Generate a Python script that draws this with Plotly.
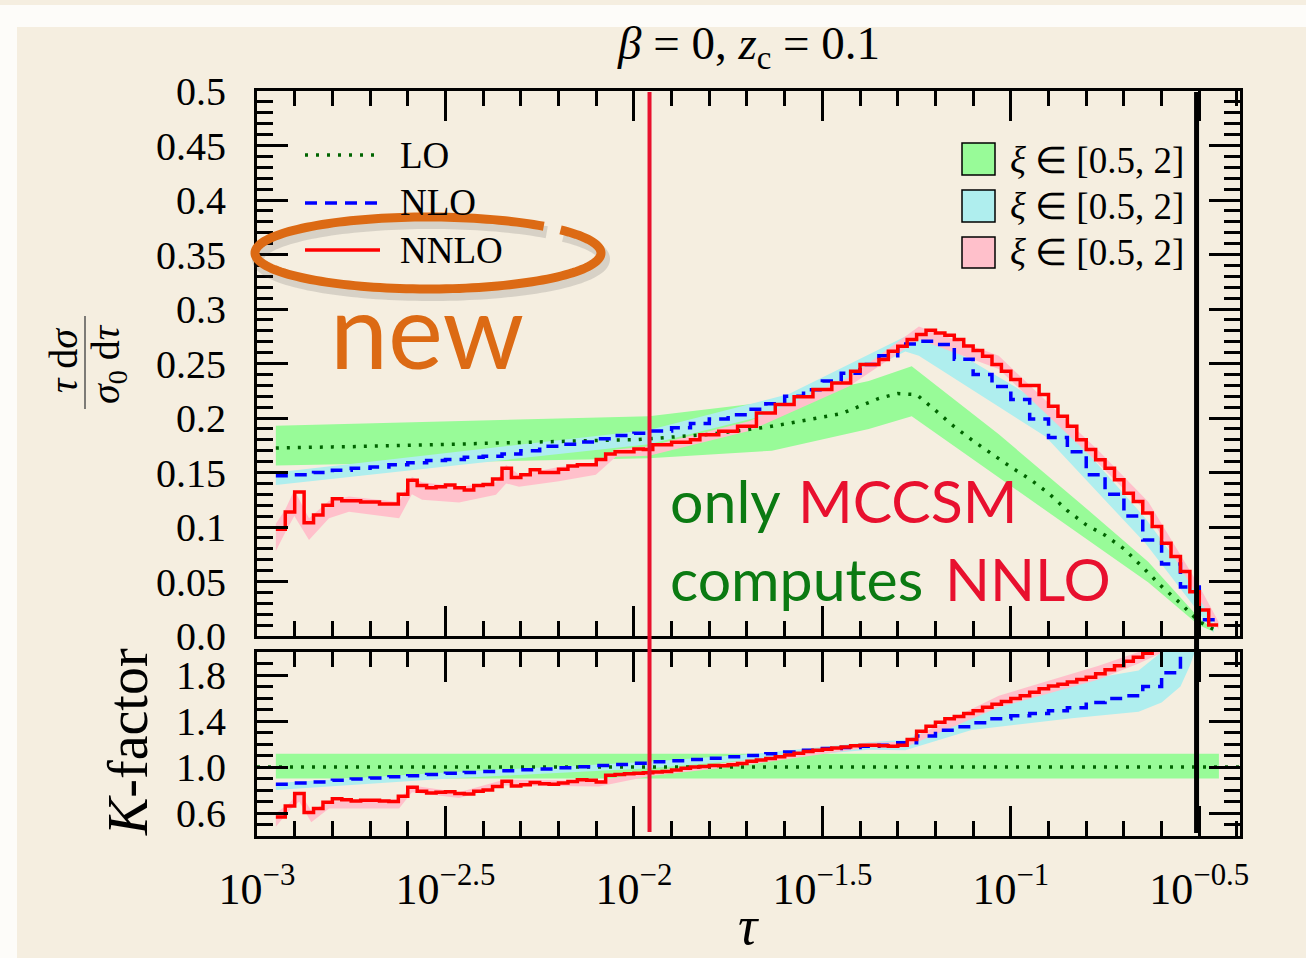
import numpy as np
import plotly.graph_objects as go

# ------------------------------------------------------------------ data
# histogram binning in log10(tau)
NNLO_LOG0, NNLO_STEP = -2.95, 0.025
NLO_LOG0, NLO_STEP = -2.95, 0.05
LO_LOG0, LO_STEP = -2.95, 0.05

nnlo = [0.098, 0.1137, 0.132, 0.104, 0.111, 0.120, 0.126, 0.124, 0.124, 0.123,
        0.123, 0.121, 0.121, 0.130, 0.143, 0.138, 0.136, 0.137, 0.1385, 0.136,
        0.134, 0.138, 0.139, 0.144, 0.154, 0.1455, 0.148, 0.1526, 0.150, 0.150,
        0.153, 0.156, 0.157, 0.157, 0.162, 0.167, 0.169, 0.169, 0.1716, 0.171,
        0.1755, 0.1755, 0.1777, 0.1777, 0.180, 0.1847, 0.1847, 0.1878, 0.1878, 0.1924,
        0.1924, 0.2047, 0.2047, 0.2123, 0.2123, 0.2194, 0.2194, 0.2261, 0.2261, 0.2322,
        0.2322, 0.2429, 0.249, 0.249, 0.2537, 0.2613, 0.2659, 0.272, 0.2767, 0.2806,
        0.278, 0.276, 0.272, 0.266, 0.262, 0.2567, 0.249, 0.243, 0.2353, 0.2298,
        0.2298, 0.2215, 0.2108, 0.2016, 0.1924, 0.180, 0.171, 0.1618, 0.154, 0.1434,
        0.131, 0.1235, 0.1128, 0.1005, 0.085, 0.0729, 0.0591, 0.0407, 0.0239, 0.0101]

nlo = [0.147, 0.148, 0.150, 0.152, 0.154, 0.155, 0.157, 0.159, 0.161, 0.162,
       0.164, 0.165, 0.167, 0.170, 0.174, 0.176, 0.178, 0.181, 0.184, 0.186,
       0.188, 0.191, 0.195, 0.199, 0.203, 0.208, 0.213, 0.220, 0.226, 0.234,
       0.241, 0.249, 0.257, 0.268, 0.2705, 0.2675, 0.254, 0.240, 0.229, 0.217,
       0.199, 0.182, 0.169, 0.148, 0.130, 0.110, 0.088, 0.066, 0.045, 0.015]

lo = [0.1725, 0.173, 0.173, 0.1735, 0.1737, 0.174, 0.1743, 0.1748, 0.1753, 0.1758,
      0.1762, 0.1767, 0.1772, 0.1778, 0.1783, 0.1788, 0.1792, 0.1795, 0.1798, 0.180,
      0.181, 0.1825, 0.1837, 0.185, 0.187, 0.189, 0.1915, 0.1945, 0.1975, 0.2005,
      0.204, 0.211, 0.218, 0.2224, 0.2215, 0.207, 0.192, 0.179, 0.167, 0.155,
      0.144, 0.131, 0.115, 0.102, 0.0925, 0.080, 0.063, 0.0455, 0.030, 0.013, 0.004]

# scale-variation bands (log10 tau knots, lower, upper)
lo_band_logtau = [-2.95, -1.96, -1.634, -1.377, -1.263, -1.032, -0.82, -0.635, -0.502, -0.462]
lo_band_low = [0.1565, 0.163, 0.170, 0.190, 0.2016, 0.146, 0.094, 0.049, 0.010, 0.004]
lo_band_high = [0.193, 0.2016, 0.215, 0.234, 0.2475, 0.185, 0.123, 0.068, 0.017, 0.006]

nlo_band_logtau = [-2.95, -1.96, -1.589, -1.28, -1.244, -0.908, -0.643, -0.511, -0.462]
nlo_band_low = [0.1385, 0.176, 0.2077, 0.261, 0.257, 0.183, 0.085, 0.026, 0.003]
nlo_band_high = [0.150, 0.189, 0.222, 0.275, 0.281, 0.212, 0.108, 0.046, 0.010]

nnlo_band_logtau = [-2.95, -2.925, -2.901, -2.862, -2.809, -2.756, -2.623, -2.589, -2.562,
                    -2.464, -2.366, -2.339, -2.305, -2.199, -2.101, -2.048, -1.96, -1.695,
                    -1.43, -1.244, -1.032, -0.767, -0.635, -0.502, -0.449]
nnlo_band_low = [0.078, 0.095, 0.110, 0.088, 0.108, 0.114, 0.108, 0.130, 0.125,
                 0.1225, 0.1296, 0.140, 0.137, 0.142, 0.148, 0.1645, 0.1654, 0.188,
                 0.229, 0.272, 0.245, 0.158, 0.112, 0.035, 0.006]
nnlo_band_high = [0.103, 0.116, 0.134, 0.108, 0.124, 0.128, 0.123, 0.146, 0.141,
                  0.137, 0.141, 0.157, 0.148, 0.155, 0.159, 0.171, 0.174, 0.197,
                  0.237, 0.284, 0.257, 0.170, 0.123, 0.047, 0.013]

# K-factors (lower panel)
k_nnlo = [0.565, 0.66, 0.77, 0.605, 0.64, 0.694, 0.724, 0.715, 0.705, 0.71,
          0.71, 0.705, 0.70, 0.745, 0.824, 0.79, 0.775, 0.78, 0.785, 0.77,
          0.765, 0.79, 0.80, 0.83, 0.876, 0.835, 0.845, 0.866, 0.855, 0.85,
          0.86, 0.875, 0.89, 0.885, 0.87, 0.928, 0.935, 0.942, 0.945, 0.95,
          0.957, 0.96, 0.975, 0.99, 1.0, 1.005, 1.014, 1.01, 1.02, 1.03,
          1.05, 1.06, 1.075, 1.09, 1.105, 1.12, 1.135, 1.145, 1.155, 1.165,
          1.175, 1.185, 1.19, 1.19, 1.185, 1.18, 1.19, 1.24, 1.31, 1.355,
          1.39, 1.42, 1.44, 1.465, 1.49, 1.52, 1.545, 1.57, 1.595, 1.62,
          1.65, 1.68, 1.705, 1.72, 1.74, 1.76, 1.78, 1.81, 1.845, 1.88,
          1.92, 1.955, 1.99, 2.05]

k_nlo = [0.85, 0.86, 0.87, 0.885, 0.895, 0.905, 0.915, 0.925, 0.935, 0.945,
         0.952, 0.96, 0.968, 0.977, 0.983, 0.993, 1.003, 1.012, 1.022, 1.033,
         1.045, 1.055, 1.066, 1.077, 1.09, 1.10, 1.115, 1.13, 1.145, 1.16,
         1.17, 1.18, 1.19, 1.21, 1.27, 1.32, 1.35, 1.385, 1.42, 1.445,
         1.466, 1.49, 1.515, 1.56, 1.595, 1.62, 1.70, 1.82, 2.05]

k_lo_tau = [0.001, 0.405]
k_lo = [1.0, 1.0]

k_lo_band_logtau = [-2.95, -0.448]
k_lo_band_low = [0.90, 0.90]
k_lo_band_high = [1.115, 1.115]

k_nlo_band_logtau = [-2.95, -2.49, -1.96, -1.695, -1.377, -1.28, -1.104, -0.838, -0.661,
                     -0.60, -0.55, -0.525, -0.512]
k_nlo_band_low = [0.80, 0.90, 0.99, 1.06, 1.15, 1.145, 1.322, 1.425, 1.48, 1.56, 1.70, 1.88, 2.0]
k_nlo_band_high = [0.86, 0.955, 1.045, 1.11, 1.215, 1.236, 1.47, 1.74, 1.84, 2.0, 2.0, 2.0, 2.0]

k_nnlo_band_logtau = [-2.95, -2.915, -2.888, -2.856, -2.809, -2.623, -2.589, -2.464, -2.345,
                      -2.093, -1.96, -1.695, -1.377, -1.282, -1.032, -0.767, -0.661, -0.595]
k_nnlo_band_low = [0.48, 0.62, 0.70, 0.52, 0.64, 0.64, 0.78, 0.73, 0.84,
                   0.83, 0.92, 1.02, 1.17, 1.17, 1.52, 1.76, 1.90, 2.0]
k_nnlo_band_high = [0.60, 0.68, 0.79, 0.62, 0.70, 0.72, 0.84, 0.78, 0.89,
                    0.88, 0.96, 1.06, 1.21, 1.22, 1.62, 1.88, 2.0, 2.0]

tau_cut_red = 0.0110     # red vertical marker
tau_cut_black = 0.311    # black vertical marker

x_tick_vals = [1e-3, 10 ** -2.5, 1e-2, 10 ** -1.5, 1e-1, 10 ** -0.5]
x_tick_text = ["10<sup>−3</sup>", "10<sup>−2.5</sup>", "10<sup>−2</sup>",
               "10<sup>−1.5</sup>", "10<sup>−1</sup>", "10<sup>−0.5</sup>"]
y_tick_vals = [0.0, 0.05, 0.1, 0.15, 0.2, 0.25, 0.3, 0.35, 0.4, 0.45, 0.5]
y_tick_text = ["0.0", "0.05", "0.1", "0.15", "0.2", "0.25", "0.3", "0.35", "0.4", "0.45", "0.5"]
k_tick_vals = [0.6, 1.0, 1.4, 1.8]
k_tick_text = ["0.6", "1.0", "1.4", "1.8"]

# ------------------------------------------------------------------ style
BG = "#f5eee0"
GREEN_BAND = "#98fb98"
CYAN_BAND = "#afeeee"
PINK_BAND = "#ffc0cb"
LO_COL = "#006400"
NLO_COL = "#0000ff"
NNLO_COL = "#ff0000"
ORANGE = "#dc6a14"
SERIF = "Liberation Serif, Times New Roman, serif"
HAND = "Lato, Comic Sans MS, sans-serif"

W, H = 1306, 958
PL, PR, PT, PB = 257, 1240, 91, 836


def px(x):
    return (x - PL) / (PR - PL)


def py(y):
    return (PB - y) / (PB - PT)


def hist_xy(log0, step, vals):
    edges = 10 ** (log0 + step * np.arange(len(vals) + 1))
    return edges, list(vals) + [vals[-1]]


def band_xy(logtau, low, high):
    t = list(10 ** np.array(logtau))
    return t + t[::-1], list(high) + list(low)[::-1]


fig = go.Figure()


def add_band(logtau, low, high, color, xa, ya):
    bx, by = band_xy(logtau, low, high)
    fig.add_trace(go.Scatter(x=bx, y=by, fill="toself", fillcolor=color, mode="lines",
                             line=dict(width=0, color=color), xaxis=xa, yaxis=ya,
                             hoverinfo="skip", showlegend=False))


# main panel bands
add_band(lo_band_logtau, lo_band_low, lo_band_high, GREEN_BAND, "x", "y")
add_band(nlo_band_logtau, nlo_band_low, nlo_band_high, CYAN_BAND, "x", "y")
add_band(nnlo_band_logtau, nnlo_band_low, nnlo_band_high, PINK_BAND, "x", "y")

# main panel lines
lo_tau = 10 ** (LO_LOG0 + LO_STEP * np.arange(len(lo)))
fig.add_trace(go.Scatter(x=lo_tau, y=lo, mode="lines", xaxis="x", yaxis="y",
                         line=dict(color=LO_COL, width=3.5, dash="3px,8px"), showlegend=False))
hx, hy = hist_xy(NLO_LOG0, NLO_STEP, nlo)
fig.add_trace(go.Scatter(x=hx, y=hy, mode="lines", line_shape="hv", xaxis="x", yaxis="y",
                         line=dict(color=NLO_COL, width=3.5, dash="12px,8px"), showlegend=False))
hx, hy = hist_xy(NNLO_LOG0, NNLO_STEP, nnlo)
fig.add_trace(go.Scatter(x=hx, y=hy, mode="lines", line_shape="hv", xaxis="x", yaxis="y",
                         line=dict(color=NNLO_COL, width=3.5), showlegend=False))

# lower panel bands
add_band(k_lo_band_logtau, k_lo_band_low, k_lo_band_high, GREEN_BAND, "x2", "y2")
add_band(k_nlo_band_logtau, k_nlo_band_low, k_nlo_band_high, CYAN_BAND, "x2", "y2")
add_band(k_nnlo_band_logtau, k_nnlo_band_low, k_nnlo_band_high, PINK_BAND, "x2", "y2")

fig.add_trace(go.Scatter(x=k_lo_tau, y=k_lo, mode="lines", xaxis="x2", yaxis="y2",
                         line=dict(color=LO_COL, width=3.5, dash="3px,8px"), showlegend=False))
hx, hy = hist_xy(NLO_LOG0, NLO_STEP, k_nlo)
fig.add_trace(go.Scatter(x=hx, y=hy, mode="lines", line_shape="hv", xaxis="x2", yaxis="y2",
                         line=dict(color=NLO_COL, width=3.5, dash="12px,8px"), showlegend=False))
hx, hy = hist_xy(NNLO_LOG0, NNLO_STEP, k_nnlo)
fig.add_trace(go.Scatter(x=hx, y=hy, mode="lines", line_shape="hv", xaxis="x2", yaxis="y2",
                         line=dict(color=NNLO_COL, width=3.5), showlegend=False))

# ------------------------------------------------------------------ axes
x_minor = [10 ** (k / 10) for k in range(-30, -3)]
common_x = dict(type="log", range=[-3, -0.392], domain=[0, 1], showline=True, linewidth=3,
                linecolor="black", mirror="ticks", ticks="inside", ticklen=30, tickwidth=2.5,
                tickcolor="black", tickvals=x_tick_vals, ticktext=x_tick_text,
                showgrid=False, zeroline=False,
                minor=dict(tickmode="array", tickvals=x_minor, ticks="inside", ticklen=15,
                           tickwidth=2.5, tickcolor="black", showgrid=False),
                tickfont=dict(family=SERIF, size=44, color="black"))
common_y = dict(showline=True, linewidth=3, linecolor="black", mirror="ticks", ticks="inside",
                ticklen=31, tickwidth=2.5, tickcolor="black", showgrid=False, zeroline=False,
                tickfont=dict(family=SERIF, size=40, color="black"), ticklabelstandoff=20)

fig.update_layout(
    width=W, height=H,
    margin=dict(l=PL, r=W - PR, t=PT, b=H - PB, pad=0),
    paper_bgcolor="#fdfcf9", plot_bgcolor=BG,
    showlegend=False,
    xaxis=dict(common_x, anchor="y", showticklabels=False),
    xaxis2=dict(common_x, anchor="y2", showticklabels=True, ticklabelstandoff=12),
    yaxis=dict(common_y, range=[0, 0.5], domain=[py(636), 1], anchor="x",
               tickvals=y_tick_vals, ticktext=y_tick_text,
               minor=dict(tickmode="array", tickvals=[i / 100 for i in range(51)], ticks="inside",
                          ticklen=16, tickwidth=2.5, tickcolor="black", showgrid=False)),
    yaxis2=dict(common_y, range=[0.4, 2.0], domain=[0, py(652)], anchor="x2",
                tickvals=k_tick_vals, ticktext=k_tick_text,
                minor=dict(tickmode="array", tickvals=[0.4 + i / 10 for i in range(17)],
                           ticks="inside", ticklen=16, tickwidth=2.5, tickcolor="black",
                           showgrid=False)),
)

# ------------------------------------------------------------------ shapes
shapes = []
# page background: beige panel with white margin strips
shapes.append(dict(type="rect", xref="paper", yref="paper", x0=px(17), x1=px(1306),
                   y0=py(958), y1=py(27), fillcolor=BG, line=dict(width=0), layer="below"))
shapes.append(dict(type="rect", xref="paper", yref="paper", x0=px(0), x1=px(1306),
                   y0=py(5), y1=py(0), fillcolor=BG, line=dict(width=0), layer="below"))

# vertical markers
shapes.append(dict(type="line", xref="x", yref="paper", x0=tau_cut_red, x1=tau_cut_red,
                   y0=py(832), y1=py(92), line=dict(color="#e8102e", width=4)))
shapes.append(dict(type="line", xref="x", yref="paper", x0=tau_cut_black, x1=tau_cut_black,
                   y0=py(833), y1=py(92), line=dict(color="black", width=5)))

# left legend line samples
for yy, col, dash in [(155, LO_COL, "3px,8px"), (203, NLO_COL, "12px,8px"), (250, NNLO_COL, "solid")]:
    shapes.append(dict(type="line", xref="paper", yref="paper", x0=px(305), x1=px(380),
                       y0=py(yy), y1=py(yy), line=dict(color=col, width=3.5, dash=dash)))
# right legend swatches
for (y0, y1), col in [((143, 175), GREEN_BAND), ((190, 222), CYAN_BAND), ((237, 268), PINK_BAND)]:
    shapes.append(dict(type="rect", xref="paper", yref="paper", x0=px(962), x1=px(995),
                       y0=py(y1), y1=py(y0), fillcolor=col, line=dict(color="black", width=1.5)))

# y-label fraction bar
shapes.append(dict(type="line", xref="paper", yref="paper", x0=px(85), x1=px(85),
                   y0=py(409), y1=py(316), line=dict(color="#555555", width=1.5)))

# orange hand-drawn ellipse (with soft shadow)
cx, cy, a, b = 428, 253, 173, 36
th = np.radians(np.linspace(40, -312, 160))


def ell_path(dx, dy):
    pts = [(px(cx + dx + a * np.cos(t)), py(cy + dy - b * np.sin(t))) for t in th]
    return "M " + " L ".join(f"{x:.5f},{y:.5f}" for x, y in pts)


shapes.append(dict(type="path", xref="paper", yref="paper", path=ell_path(3, 6),
                   line=dict(color="rgba(60,60,60,0.16)", width=12)))
shapes.append(dict(type="path", xref="paper", yref="paper", path=ell_path(0, 0),
                   line=dict(color=ORANGE, width=9)))
fig.update_layout(shapes=shapes)

# ------------------------------------------------------------------ annotations
ann = []


def text(x, y, s, size, color="black", family=SERIF, xanchor="center", angle=0):
    ann.append(dict(x=px(x), y=py(y), xref="paper", yref="paper", text=s, showarrow=False,
                    xanchor=xanchor, yanchor="middle", textangle=angle,
                    font=dict(family=family, size=size, color=color)))


text(748, 47, "<i>β</i> = 0, <i>z</i><sub>c</sub> = 0.1", 47)
text(748, 926, "<i>τ</i>", 54)
text(63, 361, "<i>τ</i> d<i>σ</i>", 40, angle=-90)
text(108, 364, "<i>σ</i><sub>0</sub> d<i>τ</i>", 40, angle=-90)
text(128, 742, "<i>K</i>-factor", 56, angle=-90)

text(398, 155, "LO", 37, xanchor="left")
text(398, 203, "NLO", 37, xanchor="left")
text(398, 250, "NNLO", 37, xanchor="left")
for yy in (160, 206, 252):
    text(1008, yy, "<i>ξ</i> ∈ [0.5, 2]", 37, xanchor="left")

text(427, 328, "new", 104, color=ORANGE, family=HAND)
text(668, 500, "only", 59, color="#0b7a12", family=HAND, xanchor="left")
text(796, 500, "MCCSM", 59, color="#e8102e", family=HAND, xanchor="left")
text(668, 578, "computes", 59, color="#0b7a12", family=HAND, xanchor="left")
text(943, 578, "NNLO", 59, color="#e8102e", family=HAND, xanchor="left")

fig.update_layout(annotations=ann)

fig.write_html("out.html")
